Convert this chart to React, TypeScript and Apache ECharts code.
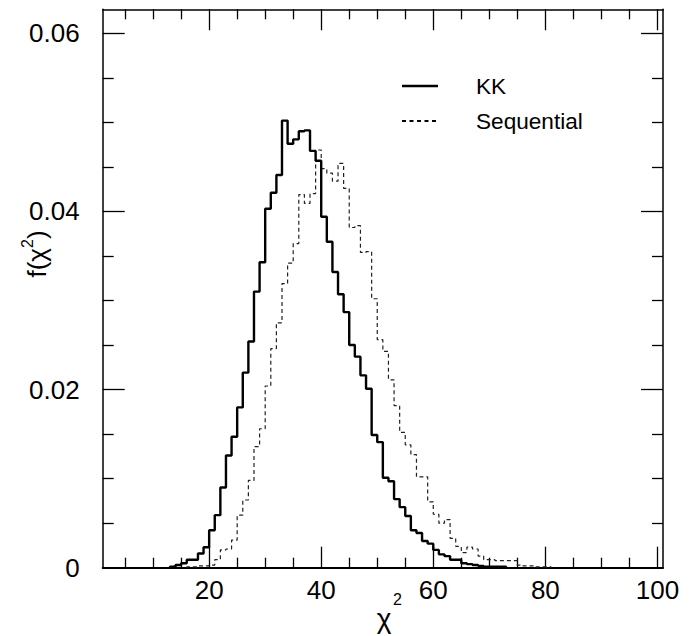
import React, { useEffect, useRef } from "react";
import * as echarts from "echarts";

// Histogram bin values (bin width 1, bins start at the given left edge)
const kkStart = 13;
const kkValues = [
  0.0001, 0.0003, 0.0005, 0.0009, 0.0009, 0.0016, 0.0023, 0.0042, 0.0059, 0.009,
  0.0126, 0.0147, 0.018, 0.0219, 0.0254, 0.031, 0.0343, 0.0403, 0.0421, 0.0441,
  0.0502, 0.0476, 0.0481, 0.049, 0.0491, 0.0468, 0.0457, 0.0394, 0.0366, 0.0332,
  0.0307, 0.0287, 0.025, 0.0237, 0.0216, 0.0201, 0.0149, 0.0141, 0.0101, 0.0097,
  0.0077, 0.0068, 0.0058, 0.0042, 0.0039, 0.003, 0.0027, 0.002, 0.0015, 0.0013,
  0.0009, 0.0009, 0.0005, 0.0004, 0.0003, 0.0002, 0.0001, 0.0001, 0.0001, 0.0001,
];
const seqStart = 16;
const seqValues = [
  0.0001, 0.0001, 0.0002, 0.0002, 0.0003, 0.0009, 0.002, 0.0021, 0.0031, 0.0059,
  0.0076, 0.0098, 0.0136, 0.0156, 0.0204, 0.0246, 0.0275, 0.0319, 0.0342, 0.0364,
  0.0419, 0.0409, 0.042, 0.0469, 0.0448, 0.0443, 0.0434, 0.0454, 0.0426, 0.0382,
  0.0384, 0.0354, 0.0355, 0.0302, 0.0256, 0.0243, 0.0211, 0.0182, 0.0152, 0.0138,
  0.0127, 0.0102, 0.0102, 0.0074, 0.006, 0.005, 0.0054, 0.0033, 0.0024, 0.0017,
  0.0023, 0.0021, 0.0013, 0.0009, 0.0009, 0.0008, 0.0008, 0.0008, 0.0008, 0.0003,
  0.0002, 0.0002, 0.0001, 0.0001, 0.0001,
];

const xMajorTicks = [20, 40, 60, 80, 100];
const xMinorTicks = [5, 10, 15, 25, 30, 35, 45, 50, 55, 65, 70, 75, 85, 90, 95];
const yLabelValues = [0, 0.02, 0.04, 0.06];
const yMajorTicks = [0.02, 0.04, 0.06];
const yMinorTicks = [0.005, 0.01, 0.015, 0.025, 0.03, 0.035, 0.045, 0.05, 0.055];

const legendNames = ["KK", "Sequential"];

const FONT = "'Liberation Sans', Arial, Helvetica, sans-serif";

function toSteps(start: number, values: number[]) {
  const pts: number[][] = [[start, 0]];
  values.forEach((v, i) => pts.push([start + i, v]));
  pts.push([start + values.length, 0]);
  return pts;
}

export default function App() {
  const ref = useRef<HTMLDivElement>(null);

  useEffect(() => {
    document.body.style.margin = "0";
    if (!ref.current) return;
    const chart = echarts.init(ref.current, null, { renderer: "svg" });

    const xBase = { type: "value", min: 1, max: 101, splitLine: { show: false }, gridIndex: 0 };
    const yBase = { type: "value", min: 0, max: 0.0627, splitLine: { show: false }, gridIndex: 0 };
    const black = "#000";

    const option: any = {
      animation: false,
      backgroundColor: "#fff",
      grid: { left: 102.7, top: 9.3, right: 37, bottom: 68.3, containLabel: false, outerBoundsMode: "none" },
      xAxis: [
        {
          ...xBase,
          position: "bottom",
          axisLine: { show: true, onZero: false, lineStyle: { color: black, width: 2 } },
          axisTick: { show: true, inside: true, length: 21, customValues: xMajorTicks, lineStyle: { color: black, width: 1.3 } },
          axisLabel: { show: true, customValues: xMajorTicks, margin: 9, fontSize: 26, color: black, fontFamily: FONT },
        },
        {
          ...xBase,
          position: "bottom",
          axisLine: { show: false, onZero: false },
          axisTick: { show: true, inside: true, length: 10, customValues: xMinorTicks, lineStyle: { color: black, width: 1.3 } },
          axisLabel: { show: false },
        },
        {
          ...xBase,
          position: "top",
          axisLine: { show: true, onZero: false, lineStyle: { color: black, width: 1.5 } },
          axisTick: { show: true, inside: true, length: 21, customValues: xMajorTicks, lineStyle: { color: black, width: 1.3 } },
          axisLabel: { show: false },
        },
        {
          ...xBase,
          position: "top",
          axisLine: { show: false, onZero: false },
          axisTick: { show: true, inside: true, length: 10, customValues: xMinorTicks, lineStyle: { color: black, width: 1.3 } },
          axisLabel: { show: false },
        },
      ],
      yAxis: [
        {
          ...yBase,
          position: "left",
          axisLine: { show: true, onZero: false, lineStyle: { color: black, width: 1.5 } },
          axisTick: { show: true, inside: true, length: 22, customValues: yMajorTicks, lineStyle: { color: black, width: 1.3 } },
          axisLabel: {
            show: true,
            customValues: yLabelValues,
            margin: 23,
            fontSize: 26,
            color: black,
            fontFamily: FONT,
            formatter: (v: number) => (v === 0 ? "0" : v.toFixed(2)),
          },
        },
        {
          ...yBase,
          position: "left",
          axisLine: { show: false, onZero: false },
          axisTick: { show: true, inside: true, length: 11, customValues: yMinorTicks, lineStyle: { color: black, width: 1.3 } },
          axisLabel: { show: false },
        },
        {
          ...yBase,
          position: "right",
          axisLine: { show: true, onZero: false, lineStyle: { color: black, width: 1.5 } },
          axisTick: { show: true, inside: true, length: 22, customValues: yMajorTicks, lineStyle: { color: black, width: 1.3 } },
          axisLabel: { show: false },
        },
        {
          ...yBase,
          position: "right",
          axisLine: { show: false, onZero: false },
          axisTick: { show: true, inside: true, length: 11, customValues: yMinorTicks, lineStyle: { color: black, width: 1.3 } },
          axisLabel: { show: false },
        },
      ],
      series: [
        {
          name: legendNames[0],
          type: "line",
          step: "end",
          xAxisIndex: 0,
          yAxisIndex: 0,
          showSymbol: false,
          symbol: "none",
          data: toSteps(kkStart, kkValues),
          lineStyle: { color: black, width: 2.4 },
          z: 3,
        },
        {
          name: legendNames[1],
          type: "line",
          step: "end",
          xAxisIndex: 0,
          yAxisIndex: 0,
          showSymbol: false,
          symbol: "none",
          data: toSteps(seqStart, seqValues),
          lineStyle: { color: "#222", width: 1.2, type: [4, 3] },
          z: 2,
        },
      ],
      graphic: [
        // legend
        { type: "line", shape: { x1: 402, y1: 86, x2: 438, y2: 86 }, style: { stroke: black, lineWidth: 2.5 } },
        { type: "text", x: 476, y: 86, style: { text: legendNames[0], fontSize: 22.6, fontFamily: FONT, fill: black, align: "left", verticalAlign: "middle" } },
        { type: "line", shape: { x1: 402, y1: 121, x2: 438, y2: 121 }, style: { stroke: black, lineWidth: 2, lineDash: [4, 3.5] } },
        { type: "text", x: 476, y: 121, style: { text: legendNames[1], fontSize: 22.6, fontFamily: FONT, fill: black, align: "left", verticalAlign: "middle" } },
        // x axis name
        { type: "text", x: 384, y: 618, style: { text: "χ", fontSize: 28, fontFamily: FONT, fill: black, align: "center", verticalAlign: "middle" } },
        { type: "text", x: 393, y: 599, style: { text: "2", fontSize: 16, fontFamily: FONT, fill: black, align: "left", verticalAlign: "middle" } },
        // y axis name
        {
          type: "group",
          x: 37,
          y: 254,
          rotation: Math.PI / 2,
          children: [
            { type: "text", x: 6, y: 0, style: { text: "f(χ", fontSize: 26, fontFamily: FONT, fill: black, align: "right", verticalAlign: "middle" } },
            { type: "text", x: 6, y: -10, style: { text: "2", fontSize: 16, fontFamily: FONT, fill: black, align: "left", verticalAlign: "middle" } },
            { type: "text", x: 15, y: 0, style: { text: ")", fontSize: 26, fontFamily: FONT, fill: black, align: "left", verticalAlign: "middle" } },
          ],
        },
      ],
    };

    chart.setOption(option);
    return () => chart.dispose();
  }, []);

  return <div ref={ref} style={{ width: 700, height: 636 }} />;
}
